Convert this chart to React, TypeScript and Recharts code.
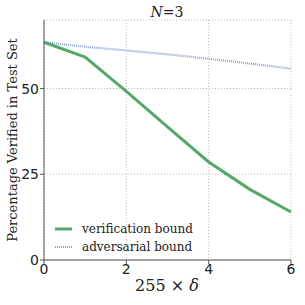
import React from 'react';
import { LineChart, Line, XAxis, YAxis, CartesianGrid } from 'recharts';

const deltas = [0, 1, 2, 3, 4, 5, 6];
const verification = [63.5, 59.2, 49.2, 38.8, 28.6, 20.6, 14.0];
const adversarial = [63.5, 62.2, 61.1, 60.0, 58.7, 57.3, 55.8];
const xTicks = [0, 2, 4, 6];
const yTicks = [0, 25, 50];

const data = deltas.map((d, i) => ({ d, v: verification[i], a: adversarial[i] }));

const AXIS = '#555';
const GRID = '#bbb';
const SERIF = "'DejaVu Serif', 'Liberation Serif', serif";
const SANS = "'DejaVu Sans', sans-serif";

export default function App() {
  return (
    <div style={{ position: 'absolute', left: 0, top: 0, width: 305, height: 305, background: '#fff' }}>
      <LineChart width={305} height={305} data={data} margin={{ top: 20, right: 14, left: 0, bottom: 0 }}>
        <CartesianGrid stroke={GRID} strokeDasharray="1 2" />
        <XAxis dataKey="d" type="number" domain={[0, 6]} ticks={xTicks} height={45}
          stroke={AXIS} tickSize={4} tick={{ fill: '#222', fontSize: 14, fontFamily: SANS }} tickMargin={0} />
        <XAxis xAxisId="top" dataKey="d" type="number" domain={[0, 6]} ticks={xTicks} orientation="top" height={0}
          stroke={AXIS} tickSize={4} tickFormatter={() => ''} />
        <YAxis type="number" domain={[0, 70]} ticks={yTicks} width={44}
          stroke={AXIS} tickSize={4} tick={{ fill: '#222', fontSize: 14, fontFamily: SANS }} tickMargin={1} />
        <YAxis yAxisId="right" type="number" domain={[0, 70]} ticks={yTicks} orientation="right" width={0}
          stroke={AXIS} tickSize={4} tickFormatter={() => ''} />
        <Line dataKey="a" stroke="#8aa3d6" strokeWidth={2.2} strokeDasharray="1 1" dot={false} isAnimationActive={false} />
        <Line dataKey="v" stroke="#55a868" strokeWidth={3} dot={false} isAnimationActive={false} />
        <text x={167} y={17} textAnchor="middle" fontFamily={SERIF} fontSize={14} fill="#222">
          <tspan fontStyle="italic">N</tspan>
          <tspan>=3</tspan>
        </text>
        <text x={167} y={291} textAnchor="middle" fontFamily={SERIF} fontSize={16} fill="#222">
          <tspan>255 × </tspan>
          <tspan fontStyle="italic">δ</tspan>
        </text>
        <text x={17} y={140} textAnchor="middle" fontFamily={SERIF} fontSize={13} fill="#222"
          transform="rotate(-90 17 140)">Percentage Verified in Test Set</text>
        <line x1={55} y1={229} x2={72} y2={229} stroke="#55a868" strokeWidth={3} />
        <line x1={55} y1={247} x2={72} y2={247} stroke="#8aa3d6" strokeWidth={2} strokeDasharray="1 1" />
        <text x={82} y={233} fontFamily={SERIF} fontSize={12} fill="#222">verification bound</text>
        <text x={82} y={251} fontFamily={SERIF} fontSize={12} fill="#222">adversarial bound</text>
      </LineChart>
    </div>
  );
}
